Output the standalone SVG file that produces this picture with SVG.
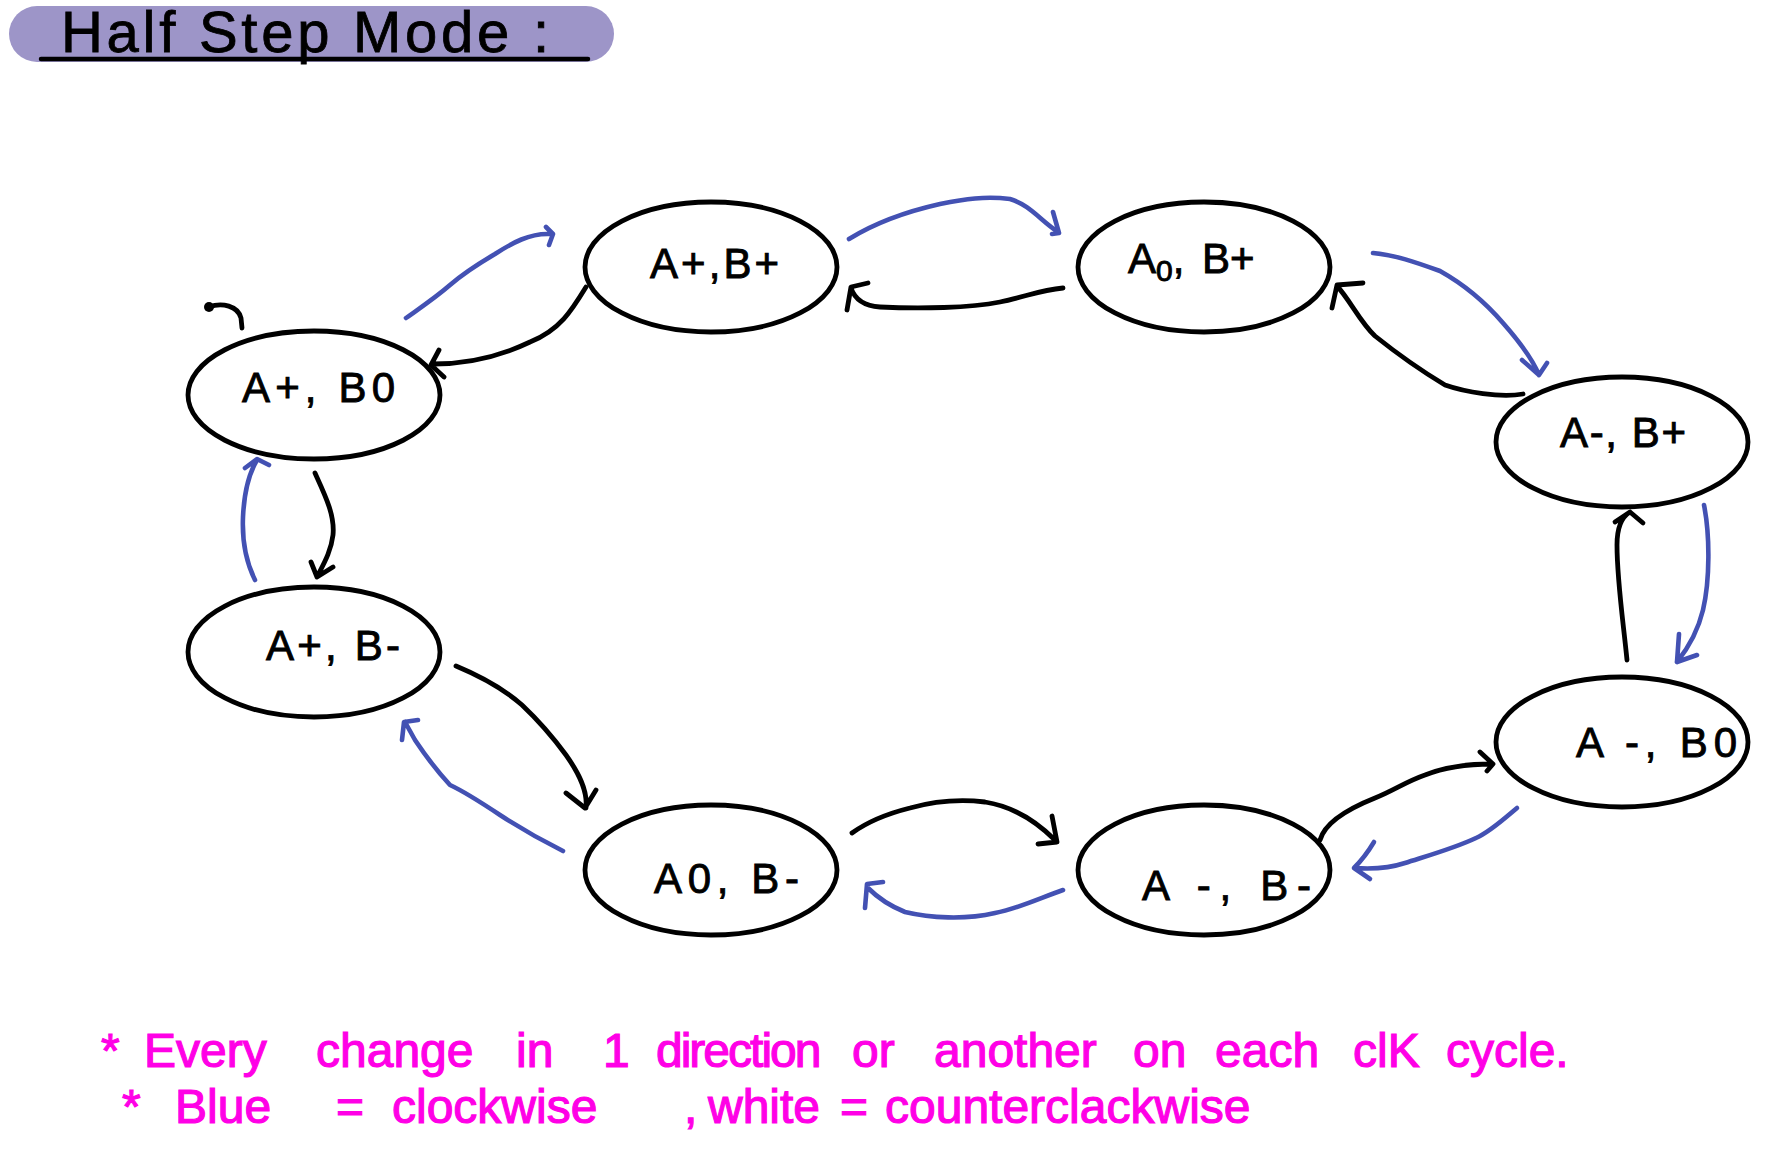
<svg xmlns="http://www.w3.org/2000/svg" width="1768" height="1155" viewBox="0 0 1768 1155">
<style>
  .node ellipse { fill: #ffffff; stroke: #000000; stroke-width: 4.8; }
  .lbl { font-family: "Liberation Sans", Arial, sans-serif; font-size: 42px; fill: #000000; stroke: #000000; stroke-width: 0.9; }
  .k { fill: none; stroke: #000000; stroke-width: 4.8; stroke-linecap: round; stroke-linejoin: round; }
  .b { fill: none; stroke: #4351b3; stroke-width: 4.6; stroke-linecap: round; stroke-linejoin: round; }
  .note { font-family: "Liberation Sans", Arial, sans-serif; font-size: 48px; fill: #ff00e6; stroke: #ff00e6; stroke-width: 1.2; }
  .title { font-family: "Liberation Sans", Arial, sans-serif; font-size: 58px; fill: #000000; stroke: #000000; stroke-width: 0.8; }
</style>
<rect width="1768" height="1155" fill="#ffffff"/>

<g id="title">
  <rect x="9" y="6" width="605" height="56" rx="28" fill="#9d95c8"/>
  <text class="title" x="61" y="52" textLength="488" lengthAdjust="spacing">Half Step Mode :</text>
  <line x1="41" y1="59" x2="588" y2="59" stroke="#000" stroke-width="4.5" stroke-linecap="round"/>
</g>

<g id="node-ap-b0" class="node">
  <ellipse cx="314" cy="395" rx="126" ry="64"/>
  <text class="lbl" x="242" y="402" textLength="153" lengthAdjust="spacing">A+, B0</text>
</g>
<g id="node-ap-bp" class="node">
  <ellipse cx="711" cy="267" rx="126" ry="65"/>
  <text class="lbl" x="650" y="278" textLength="129" lengthAdjust="spacing">A+,B+</text>
</g>
<g id="node-a0-bp" class="node">
  <ellipse cx="1204" cy="267" rx="126" ry="65"/>
  <text class="lbl" x="1128" y="273">A<tspan font-size="30" dy="8">0</tspan><tspan dy="-8">, </tspan><tspan dx="6">B+</tspan></text>
</g>
<g id="node-am-bp" class="node">
  <ellipse cx="1622" cy="442" rx="126" ry="65"/>
  <text class="lbl" x="1560" y="447" textLength="126" lengthAdjust="spacing">A-, B+</text>
</g>
<g id="node-am-b0" class="node">
  <ellipse cx="1622" cy="742" rx="126" ry="65"/>
  <text class="lbl" x="1576" y="757" textLength="161" lengthAdjust="spacing">A -, B0</text>
</g>
<g id="node-am-bm" class="node">
  <ellipse cx="1204" cy="870" rx="126" ry="65"/>
  <text class="lbl" x="1142" y="900" textLength="169" lengthAdjust="spacing">A -, B-</text>
</g>
<g id="node-a0-bm" class="node">
  <ellipse cx="711" cy="870" rx="126" ry="65"/>
  <text class="lbl" x="654" y="893" textLength="145" lengthAdjust="spacing">A0, B-</text>
</g>
<g id="node-ap-bm" class="node">
  <ellipse cx="314" cy="652" rx="126" ry="65"/>
  <text class="lbl" x="266" y="660" textLength="134" lengthAdjust="spacing">A+, B-</text>
</g>

<g id="connectors">
  <!-- black: counterclockwise -->
  <path class="k" d="M586,287 C572,310 560,330 530,342 C505,354 475,364 433,364 M439,350 L431,365 L444,377"/>
  <path class="k" d="M1063,288 C1040,290 1025,297 1000,302 C970,308 920,309 880,307 C865,306 855,300 851,288 M847,310 L851,287 L868,283"/>
  <path class="k" d="M1523,394 C1500,398 1465,392 1445,385 C1420,370 1395,352 1375,336 C1360,322 1350,300 1337,286 M1332,308 L1337,285 L1363,283"/>
  <path class="k" d="M1627,660 C1623,620 1617,580 1617,545 C1617,530 1620,518 1630,512 M1615,522 L1630,512 L1643,523"/>
  <path class="k" d="M1320,840 C1325,822 1350,808 1375,798 C1395,790 1405,782 1425,775 C1445,767 1465,764 1492,764 M1480,752 L1493,764 L1487,771"/>
  <path class="k" d="M852,833 C870,820 890,813 910,808 C935,801 960,799 985,802 C1010,806 1035,820 1055,840 M1052,816 L1057,842 L1038,844"/>
  <path class="k" d="M456,666 C480,676 505,690 522,705 C540,722 555,740 566,755 C578,772 588,790 586,808 M566,793 L585,808 L596,790"/>
  <path class="k" d="M315,473 C325,495 335,515 333,535 C331,552 323,565 317,577 M311,562 L317,577 L333,567"/>
  <!-- blue: clockwise -->
  <path class="b" d="M406,318 C420,308 435,298 450,285 C465,272 478,264 495,254 C512,243 530,233 550,234 M546,227 L553,234 L549,245"/>
  <path class="b" d="M849,239 C870,226 900,213 940,204 C965,199 985,196 1010,199 C1030,205 1040,220 1058,232 M1053,212 L1059,233 L1052,234"/>
  <path class="b" d="M1373,253 C1395,255 1415,262 1440,271 C1465,285 1485,302 1503,323 C1518,340 1532,358 1539,375 M1522,360 L1539,375 L1547,363"/>
  <path class="b" d="M1704,505 C1710,535 1710,580 1703,610 C1697,635 1685,652 1677,662 M1679,634 L1677,662 L1697,655"/>
  <path class="b" d="M1517,808 C1505,818 1490,832 1476,838 C1455,848 1430,855 1405,863 C1390,868 1370,869 1355,868 M1374,842 C1368,852 1360,862 1354,868 L1370,879"/>
  <path class="b" d="M1063,890 C1040,898 1020,908 995,913 C965,920 930,918 905,912 C890,906 878,898 868,888 M865,908 L867,884 L883,882"/>
  <path class="b" d="M563,851 C545,842 520,828 500,815 C485,805 465,792 450,785 C438,772 425,755 415,740 L405,722 M402,740 L404,722 L418,720"/>
  <path class="b" d="M255,580 C245,560 242,540 243,517 C244,495 248,475 257,460 M245,468 L257,459 L269,465"/>
</g>

<g id="mark">
  <circle cx="209" cy="307" r="5" fill="#000"/>
  <path class="k" d="M209,307 C222,302 238,306 241,318 L242,328"/>
</g>

<g id="notes">
  <text class="note" y="1067"><tspan x="101">*</tspan><tspan x="144">Every</tspan><tspan x="316">change</tspan><tspan x="516">in</tspan><tspan x="603">1</tspan><tspan x="656" letter-spacing="-2">direction</tspan><tspan x="852">or</tspan><tspan x="934">another</tspan><tspan x="1133">on</tspan><tspan x="1215">each</tspan><tspan x="1353">clK</tspan><tspan x="1446">cycle.</tspan></text>
  <text class="note" y="1123"><tspan x="122">*</tspan><tspan x="175">Blue</tspan><tspan x="336">=</tspan><tspan x="392">clockwise</tspan><tspan x="684">,</tspan><tspan x="708">white</tspan><tspan x="840">=</tspan><tspan x="885">counterclackwise</tspan></text>
</g>
</svg>
